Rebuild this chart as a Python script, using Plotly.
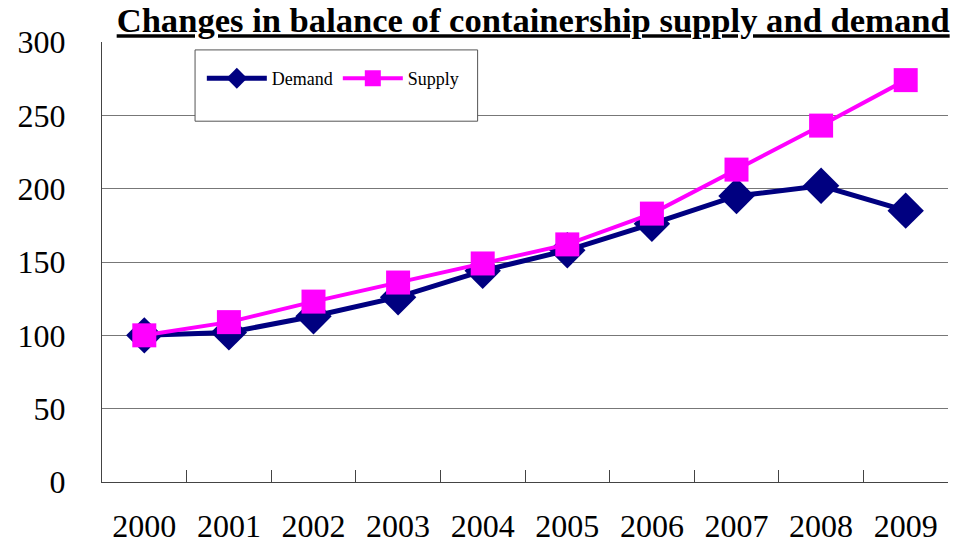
import plotly.graph_objects as go

years = ["2000", "2001", "2002", "2003", "2004", "2005", "2006", "2007", "2008", "2009"]
demand = [100, 102, 113, 126, 144, 158, 176, 195, 202, 185]
supply = [100, 109, 123, 136, 149, 162, 183, 213, 243, 274]
y_ticks = [0, 50, 100, 150, 200, 250, 300]

serif = "Liberation Serif"

fig = go.Figure()
fig.add_trace(go.Scatter(
    x=years, y=demand, name="Demand", mode="lines+markers",
    line=dict(color="#000080", width=5),
    marker=dict(symbol="diamond", size=28, color="#000080"),
))
fig.add_trace(go.Scatter(
    x=years, y=supply, name="Supply", mode="lines+markers",
    line=dict(color="#FF00FF", width=4),
    marker=dict(symbol="square", size=24, color="#FF00FF"),
))

fig.add_shape(type="rect", xref="paper", yref="paper",
              x0=0.110, x1=0.444, y0=0.820, y1=0.982,
              line=dict(color="#555555", width=1), fillcolor="white", layer="above")

fig.update_layout(
    width=972, height=545,
    margin=dict(l=102, r=24, t=42, b=63, autoexpand=False),
    paper_bgcolor="white", plot_bgcolor="white",
    font=dict(family=serif, color="black"),
    title=dict(
        text="<b><u>Changes in balance of containership supply and demand</u></b>",
        font=dict(family=serif, size=34.6, color="black"),
        x=0.977, xanchor="right", yref="container", y=0.963, yanchor="middle",
    ),
    showlegend=True,
    legend=dict(
        orientation="h", x=0.118, y=0.959, xanchor="left", yanchor="top",
        bgcolor="rgba(0,0,0,0)", borderwidth=0,
        font=dict(family=serif, size=18, color="black"),
        itemwidth=60,
    ),
    xaxis=dict(
        type="category", range=[-0.5, 9.5], showgrid=False, showline=True,
        linecolor="#444444", linewidth=1, automargin=False,
        ticks="inside", tickson="boundaries", ticklen=12, tickcolor="#444444",
        tickfont=dict(family=serif, size=32, color="black"),
        ticklabelstandoff=16,
    ),
    yaxis=dict(
        range=[0, 300], tickvals=y_ticks, showgrid=True, gridcolor="#777777", gridwidth=1,
        showline=True, linecolor="#444444", linewidth=1, zeroline=False, automargin=False,
        ticks="", tickfont=dict(family=serif, size=32, color="black"),
        ticklabelstandoff=29,
    ),
)

fig.write_html("out.html", config={"displayModeBar": False},
               post_script="document.body.style.margin='0px';")
